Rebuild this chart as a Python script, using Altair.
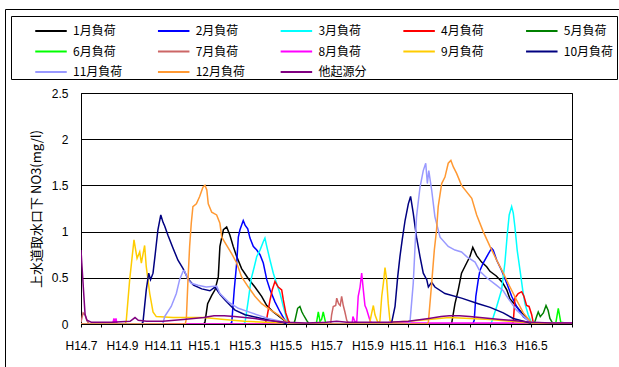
import altair as alt
import pandas as pd

# Series names (legend order) and their line colours
series_names = ["1月負荷", "2月負荷", "3月負荷", "4月負荷", "5月負荷",
                "6月負荷", "7月負荷", "8月負荷", "9月負荷", "10月負荷",
                "11月負荷", "12月負荷", "他起源分"]
series_colors = ["#000000", "#0000FF", "#00FFFF", "#FF0000", "#008000",
                 "#00FF00", "#CC6666", "#FF00FF", "#FFCC00", "#000080",
                 "#9999FF", "#FF9933", "#800080"]

# Month labels every second month, starting at H14.7 (month index 0)
tick_labels = ["H14.7", "H14.9", "H14.11", "H15.1", "H15.3", "H15.5",
               "H15.7", "H15.9", "H15.11", "H16.1", "H16.3", "H16.5"]

# t = months since H14.7, v = NO3 (mg/l)
jan_t = [0, 6.0, 6.06, 6.19, 6.39, 6.55, 6.71, 6.79, 6.96, 7.12, 7.28, 7.44, 7.61, 7.85, 8.18, 8.5, 8.83, 9.08, 9.4, 9.81,
         10.05, 10.2, 18.1, 18.12, 18.28, 18.44, 18.6, 18.85, 19.01, 19.15, 19.34, 19.58, 19.83, 19.99, 20.3, 20.6, 20.81,
         20.97, 21.29, 21.62, 22.03, 24]
jan_v = [0, 0, 0.02, 0.22, 0.31, 0.37, 0.51, 0.84, 1.02, 1.05, 0.96, 0.84, 0.73, 0.6, 0.49, 0.4, 0.3, 0.2, 0.13, 0.06,
         0.02, 0, 0, 0.01, 0.22, 0.37, 0.55, 0.66, 0.73, 0.83, 0.74, 0.67, 0.62, 0.57, 0.52, 0.45, 0.37,
         0.27, 0.19, 0.1, 0.01, 0]

feb_t = [0, 7.3, 7.37, 7.49, 7.61, 7.69, 7.77, 7.93, 8.02, 8.15, 8.26, 8.42, 8.59, 8.75, 8.91, 9.08, 9.24, 9.48, 9.73, 9.97,
         10.1, 19.15, 19.22, 19.3, 19.42, 19.5, 19.66, 19.91, 20.07, 20.15, 20.32, 20.56, 20.81, 21.05, 21.29, 21.62, 22.03, 24]
feb_v = [0, 0, 0.02, 0.37, 0.66, 0.94, 1.02, 1.12, 1.07, 1.03, 0.93, 0.84, 0.8, 0.75, 0.66, 0.48, 0.37, 0.24, 0.13, 0.04,
         0, 0, 0.04, 0.3, 0.48, 0.58, 0.66, 0.76, 0.82, 0.8, 0.69, 0.58, 0.44, 0.3, 0.19, 0.08, 0.01, 0]

mar_t = [0, 7.95, 8.02, 8.18, 8.31, 8.47, 8.59, 8.75, 8.91, 8.99, 9.08, 9.24, 9.4, 9.56, 9.73, 9.89, 10.05, 10.15, 20.0, 20.07,
         20.32, 20.56, 20.72, 20.84, 20.93, 21.05, 21.13, 21.21, 21.32, 21.46, 21.59, 21.7, 21.86, 22.03, 24]
mar_v = [0, 0, 0.02, 0.26, 0.48, 0.62, 0.73, 0.8, 0.89, 0.93, 0.84, 0.69, 0.55, 0.44, 0.33, 0.19, 0.06, 0, 0, 0.02,
         0.19, 0.37, 0.66, 0.98, 1.18, 1.27, 1.2, 1.05, 0.8, 0.58, 0.37, 0.22, 0.1, 0.01, 0]

apr_t = [0, 9.0, 9.08, 9.24, 9.35, 9.48, 9.64, 9.81, 9.89, 10.01, 10.13, 10.25, 21.05, 21.13, 21.21, 21.37, 21.54, 21.65,
         21.78, 21.9, 22.03, 22.11, 24]
apr_v = [0, 0, 0.06, 0.26, 0.37, 0.46, 0.4, 0.37, 0.26, 0.12, 0.04, 0, 0, 0.02, 0.28, 0.33, 0.35, 0.3,
         0.2, 0.19, 0.1, 0.01, 0]

may_t = [0, 10.4, 10.46, 10.59, 10.7, 10.8, 10.87, 11.03, 11.15, 22.15, 22.27, 22.35, 22.45, 22.6, 22.73, 22.83, 22.92, 23.05, 24]
may_v = [0, 0, 0.04, 0.17, 0.19, 0.13, 0.1, 0.04, 0, 0, 0.08, 0.13, 0.08, 0.12, 0.2, 0.15, 0.06, 0.01, 0]

jun_t = [0, 11.5, 11.6, 11.68, 11.76, 11.84, 11.95, 12.05, 23.2, 23.33, 23.45, 24]
jun_v = [0, 0, 0.13, 0.03, 0.05, 0.13, 0.02, 0, 0, 0.17, 0.02, 0]

jul_t = [0, 0.1, 0.2, 0.3, 0.4, 12.2, 12.25, 12.33, 12.45, 12.5, 12.59, 12.67, 12.74, 12.82, 12.9, 12.99, 13.1, 24]
jul_v = [0.02, 0.12, 0.1, 0.03, 0, 0, 0.1, 0.19, 0.2, 0.28, 0.22, 0.2, 0.3, 0.2, 0.13, 0.04, 0, 0]

aug_t = [0, 1.55, 1.61, 1.66, 1.71, 1.76, 13.25, 13.29, 13.4, 13.48, 13.55, 13.64, 13.72, 13.8, 13.88, 13.96, 14.04,
         14.12, 14.2, 24]
aug_v = [0, 0, 0.06, 0.02, 0.06, 0, 0, 0.08, 0.02, 0.03, 0.3, 0.4, 0.55, 0.37, 0.2, 0.16, 0.1,
         0.04, 0.01, 0.01]

sep_t = [0, 2.15, 2.21, 2.38, 2.59, 2.74, 2.87, 2.95, 3.11, 3.19, 3.36, 3.52, 3.68, 4.5, 5.2, 6.0, 7.0, 8.0, 9.0, 10.0,
         10.2, 14.1, 14.21, 14.29, 14.37, 14.52, 14.61, 14.7, 14.78, 14.86, 14.94, 15.02, 15.1, 15.2, 16.0, 17.0, 18.0,
         19.0, 20.0, 21.0, 22.0, 24]
sep_v = [0, 0, 0.03, 0.48, 0.91, 0.71, 0.78, 0.66, 0.85, 0.62, 0.33, 0.13, 0.08, 0.07, 0.07, 0.07, 0.05, 0.03, 0.02, 0.01,
         0, 0, 0.12, 0.2, 0.1, 0.01, 0.03, 0.3, 0.44, 0.61, 0.48, 0.22, 0.04, 0.02, 0.03, 0.05, 0.07,
         0.06, 0.05, 0.03, 0.01, 0]

oct_t = [0, 2.95, 3.03, 3.19, 3.31, 3.4, 3.52, 3.63, 3.76, 3.9, 4.01, 4.09, 4.25, 4.5, 4.74, 4.99, 5.23, 5.5, 5.9, 6.3,
         6.55, 6.8, 7.04, 7.3, 7.53, 8.02, 8.83, 9.81, 10.1, 15.1, 15.19, 15.35, 15.48, 15.59, 15.7, 15.84, 16.0, 16.11,
         16.24, 16.4, 16.57, 16.73, 16.9, 16.98, 17.14, 17.3, 17.79, 18.6, 19.42, 20.0, 20.64, 21.13, 21.95, 24]
oct_v = [0, 0, 0.02, 0.37, 0.55, 0.48, 0.55, 0.76, 1.02, 1.18, 1.1, 1.06, 0.96, 0.82, 0.69, 0.6, 0.49, 0.42, 0.38, 0.36,
         0.4, 0.32, 0.26, 0.2, 0.15, 0.1, 0.06, 0.02, 0, 0, 0.02, 0.19, 0.51, 0.73, 0.91, 1.12, 1.3, 1.38,
         1.2, 0.94, 0.73, 0.55, 0.48, 0.4, 0.45, 0.4, 0.33, 0.28, 0.22, 0.18, 0.12, 0.06, 0.01, 0]

nov_t = [0, 4.0, 4.09, 4.41, 4.66, 4.82, 4.99, 5.05, 5.23, 5.39, 5.72, 6.12, 6.63, 6.79, 7.2, 7.69, 8.34, 9.14, 9.97, 10.2,
         16.0, 16.08, 16.24, 16.4, 16.57, 16.73, 16.85, 16.93, 17.0, 17.14, 17.3, 17.55, 17.95, 18.28, 18.6, 18.85, 19.26,
         19.5, 19.83, 20.3, 20.64, 20.81, 21.29, 21.95, 24]
nov_v = [0, 0, 0.08, 0.19, 0.33, 0.48, 0.57, 0.58, 0.48, 0.44, 0.42, 0.4, 0.41, 0.33, 0.24, 0.17, 0.12, 0.06, 0.02, 0,
         0, 0.02, 0.44, 1.16, 1.48, 1.66, 1.74, 1.52, 1.66, 1.45, 1.16, 0.94, 0.84, 0.8, 0.78, 0.73, 0.67,
         0.57, 0.5, 0.42, 0.36, 0.3, 0.15, 0.02, 0]

dec_t = [0, 5.1, 5.15, 5.23, 5.31, 5.39, 5.47, 5.64, 5.8, 5.96, 6.06, 6.15, 6.22, 6.39, 6.63, 6.79, 6.88, 7.12, 7.37, 7.61,
         7.85, 8.18, 8.5, 8.83, 9.15, 9.64, 9.97, 10.2, 16.9, 16.98, 17.14, 17.27, 17.38, 17.46, 17.63, 17.79, 17.95, 18.08,
         18.2, 18.36, 18.6, 19.1, 19.34, 19.66, 19.99, 20.32, 20.64, 20.97, 21.29, 21.62, 22.03, 24]
dec_v = [0, 0, 0.06, 0.48, 0.84, 1.09, 1.27, 1.3, 1.38, 1.48, 1.5, 1.45, 1.3, 1.21, 1.18, 1.09, 0.94, 0.85, 0.76, 0.66,
         0.51, 0.4, 0.3, 0.22, 0.17, 0.1, 0.04, 0, 0, 0.02, 0.44, 0.8, 1.02, 1.27, 1.52, 1.59, 1.74, 1.77,
         1.7, 1.63, 1.5, 1.36, 1.18, 1.0, 0.84, 0.69, 0.55, 0.4, 0.26, 0.12, 0.01, 0]

oth_t = [0, 0.05, 0.2, 0.29, 0.5, 1.5, 2.4, 2.64, 2.8, 3.2, 4.0, 5.0, 5.5, 6.0, 6.5, 7.0, 7.5, 8.0, 8.5, 9.0,
         9.5, 10.0, 11.0, 12.0, 12.5, 13.0, 14.0, 15.0, 16.0, 17.0, 17.6, 18.0, 18.5, 19.0, 19.5, 20.0, 20.5, 21.0,
         21.5, 22.0, 23.0, 24]
oth_v = [0.8, 0.62, 0.1, 0.04, 0.02, 0.02, 0.03, 0.07, 0.04, 0.03, 0.03, 0.05, 0.06, 0.07, 0.09, 0.09, 0.08, 0.07, 0.06, 0.04,
         0.03, 0.02, 0.01, 0.02, 0.03, 0.02, 0.02, 0.02, 0.03, 0.06, 0.08, 0.09, 0.09, 0.08, 0.07, 0.06, 0.05, 0.04,
         0.03, 0.02, 0.01, 0.01]

series_data = [(jan_t, jan_v), (feb_t, feb_v), (mar_t, mar_v), (apr_t, apr_v), (may_t, may_v),
               (jun_t, jun_v), (jul_t, jul_v), (aug_t, aug_v), (sep_t, sep_v), (oct_t, oct_v),
               (nov_t, nov_v), (dec_t, dec_v), (oth_t, oth_v)]

rows = []
for name, (ts, vs) in zip(series_names, series_data):
    for i, (t, v) in enumerate(zip(ts, vs)):
        rows.append({"series": name, "t": t, "v": v, "i": i})
df = pd.DataFrame(rows)

label_array = "[" + ",".join("'" + s + "'" for s in tick_labels) + "]"
x_label_expr = f"(datum.value % 2 == 0 && datum.value < 24) ? {label_array}[datum.value / 2] : ''"

lines = alt.Chart(df).mark_line(strokeWidth=1.5, clip=True).encode(
    x=alt.X("t:Q",
            scale=alt.Scale(domain=[0, 24], nice=False, zero=False),
            axis=alt.Axis(title=None, values=list(range(25)), labelExpr=x_label_expr,
                          tickSize=3, tickColor="black", grid=False, domainColor="black",
                          labelFont="Liberation Sans", labelFontSize=12, labelColor="black",
                          labelPadding=13, labelFlush=False, labelOverlap=False)),
    y=alt.Y("v:Q",
            scale=alt.Scale(domain=[0, 2.5], nice=False),
            axis=alt.Axis(title="上水道取水口下 NO3(mg/l)", values=[0, 0.5, 1, 1.5, 2, 2.5], format="~g",
                          ticks=False, grid=True, gridColor="black", gridWidth=1, domainColor="black",
                          labelFont="Liberation Sans", labelFontSize=12, labelColor="black", labelPadding=13,
                          titleFont="Noto Sans CJK JP", titleFontSize=13, titleFontWeight="normal",
                          titleColor="black", titlePadding=8)),
    color=alt.Color("series:N",
                    scale=alt.Scale(domain=series_names, range=series_colors),
                    legend=alt.Legend(title=None, orient="none", legendX=-47, legendY=-68, columns=5,
                                      direction="horizontal",
                                      symbolType="stroke", symbolSize=992, symbolStrokeWidth=2,
                                      labelFont="Noto Sans CJK JP", labelFontSize=12, labelColor="black",
                                      labelOffset=5, clipHeight=12, rowPadding=8.5, columnPadding=33.7,
                                      gridAlign="all")),
    order="i:Q",
)

frame_src = alt.Data(values=[{"k": 0}])
# legend box and outer chart border
legend_box = alt.Chart(frame_src).mark_rect(fill="transparent", stroke="black", strokeWidth=1).encode(
    x=alt.value(-69.5), x2=alt.value(536.5), y=alt.value(-76.5), y2=alt.value(-13.5))
outer_box = alt.Chart(frame_src).mark_rect(fill="transparent", stroke="black", strokeWidth=1).encode(
    x=alt.value(-75.5), x2=alt.value(560), y=alt.value(-83.5), y2=alt.value(300))

chart = alt.layer(outer_box, legend_box, lines).properties(
    width=491, height=231,
    autosize=alt.AutoSizeParams(type="none"),
    padding={"left": 81, "top": 93, "right": 47, "bottom": 43},
).configure_view(stroke="black", strokeWidth=1)

chart.save("out.html", embed_options={"renderer": "svg", "actions": False})
